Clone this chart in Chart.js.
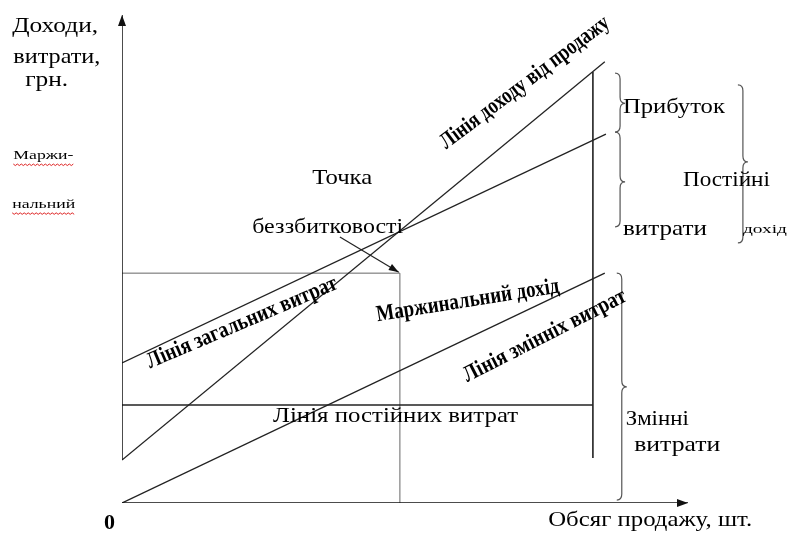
<!DOCTYPE html>
<html>
<head>
<meta charset="utf-8">
<script src="https://cdn.jsdelivr.net/npm/chart.js@4.4.1/dist/chart.umd.min.js"></script>
<style>
    body { margin: 0; background: #fff; }
    #chart { display: block; }
</style>
</head>
<body>
<canvas id="chart" width="789" height="537"></canvas>
<script>
// lines of the break-even chart, in chart units (x: 0..100 sales volume, y: 0..100 money)
const revenueLine = [[0, 8.8], [85.3, 90.4]];
const totalCostLine = [[0, 28.7], [85.5, 75.6]];
const variableCostLine = [[0, 0], [85.3, 47.1]];
const fixedCostLine = [[0, 20.1], [83.2, 20.1]];
const salesLimitLine = [[83.2, 9.2], [83.2, 88.3]];
const breakEvenX = [[49.1, 0], [49.1, 47.1]];
const breakEvenY = [[0, 47.1], [49.1, 47.1]];
const yAxisLine = [[0, 8.8], [0, 100]];
const xAxisLine = [[0, 0], [100, 0]];
const breakEvenArrow = [[38.5, 54.5], [48.9, 47.3]];

// braces: x, top, bottom, tip
const braces = [
    [88.0, 88.1, 76.0, 81.9],
    [88.0, 76.0, 56.6, 65.8],
    [88.3, 47.1, 0.6, 23.8],
    [109.7, 85.7, 53.3, 69.9]
];

// plain labels: text, x, y, width, size, bold
const labels = [
    ['Доходи,', -19.4, 97.7, 86, 21, false],
    ['витрати,', -19.2, 91.2, 87, 21, false],
    ['грн.', -17.1, 86.5, 43, 21, false],
    ['Маржи-', -19.2, 71.1, 60, 13, false],
    ['нальний', -19.4, 61.1, 63, 13, false],
    ['Точка', 33.6, 66.4, 60, 21, false],
    ['беззбитковості', 23.0, 56.4, 151, 21, false],
    ['Прибуток', 88.5, 81.1, 102, 21, false],
    ['Постійні', 99.1, 66.0, 87, 21, false],
    ['витрати', 88.5, 56.1, 84, 21, false],
    ['дохід', 109.7, 56.1, 44, 13, false],
    ['Лінія постійних витрат', 26.7, 17.8, 245, 21, false],
    ['Змінні', 89.0, 17.2, 63, 21, false],
    ['витрати', 90.5, 11.7, 86, 21, false],
    ['0', -3.2, -4.3, 11, 21, true],
    ['Обсяг продажу, шт.', 75.3, -3.5, 204, 21, false]
];

// rotated bold labels: text, centre x, centre y, angle (deg), width
const slantLabels = [
    ['Лінія доходу від продажу', 71.2, 86.1, -37, 206],
    ['Лінія загальних витрат', 21.2, 36.9, -23, 205],
    ['Маржинальний дохід', 61.1, 41.4, -9, 185],
    ['Лінія змінніх витрат', 74.7, 34.2, -27, 180]
];

const toPoints = arr => arr.map(p => ({ x: p[0], y: p[1] }));

function lineSet(arr, color, width) {
    return {
        data: toPoints(arr),
        showLine: true,
        borderColor: color,
        borderWidth: width,
        pointRadius: 0,
        fill: false
    };
}

function drawText(ctx, txt, x, y, width, size, bold) {
    ctx.save();
    ctx.font = (bold ? 'bold ' : '') + size + 'px "Liberation Serif", "Times New Roman", serif';
    const w = ctx.measureText(txt).width;
    ctx.translate(x, y);
    ctx.scale(width / w, 1);
    ctx.textAlign = 'left';
    ctx.textBaseline = 'middle';
    ctx.fillStyle = '#000';
    ctx.fillText(txt, 0, 0);
    ctx.restore();
}

function drawHead(ctx, x1, y1, x2, y2, len, half) {
    const a = Math.atan2(y2 - y1, x2 - x1);
    ctx.beginPath();
    ctx.moveTo(x2, y2);
    ctx.lineTo(x2 - len * Math.cos(a) + half * Math.sin(a), y2 - len * Math.sin(a) - half * Math.cos(a));
    ctx.lineTo(x2 - len * Math.cos(a) - half * Math.sin(a), y2 - len * Math.sin(a) + half * Math.cos(a));
    ctx.closePath();
    ctx.fill();
}

function drawBrace(ctx, x, top, bottom, tip) {
    ctx.beginPath();
    ctx.moveTo(x - 5, top);
    ctx.quadraticCurveTo(x, top, x, top + 6);
    ctx.lineTo(x, tip - 6);
    ctx.quadraticCurveTo(x, tip, x + 5, tip);
    ctx.quadraticCurveTo(x, tip, x, tip + 6);
    ctx.lineTo(x, bottom - 6);
    ctx.quadraticCurveTo(x, bottom, x - 5, bottom);
    ctx.stroke();
}

const decorPlugin = {
    id: 'decor',
    afterDatasetsDraw(chart) {
        const ctx = chart.ctx;
        const sx = chart.scales.x;
        const sy = chart.scales.y;
        const px = v => sx.getPixelForValue(v);
        const py = v => sy.getPixelForValue(v);

        ctx.save();
        ctx.fillStyle = '#111';
        // axis arrows
        drawHead(ctx, px(0), py(90), px(0), py(100), 11, 4);
        drawHead(ctx, px(90), py(0), px(100), py(0), 11, 4);
        // break-even pointer
        const a = breakEvenArrow;
        drawHead(ctx, px(a[0][0]), py(a[0][1]), px(a[1][0]), py(a[1][1]), 10, 3.5);

        // braces
        ctx.strokeStyle = '#555';
        ctx.lineWidth = 1.2;
        braces.forEach(b => drawBrace(ctx, px(b[0]), py(b[1]), py(b[2]), py(b[3])));

        // labels
        labels.forEach(l => drawText(ctx, l[0], px(l[1]), py(l[2]), l[3], l[4], l[5]));

        // spell-check squiggles under the small left labels
        ctx.strokeStyle = '#d22';
        ctx.lineWidth = 1;
        [labels[3], labels[4]].forEach(l => {
            const x0 = px(l[1]);
            const y0 = py(l[2]) + 8;
            ctx.beginPath();
            for (let i = 0; i <= l[3]; i += 2) {
                const yy = y0 + (i % 4 === 0 ? 0 : 1.5);
                if (i === 0) ctx.moveTo(x0 + i, yy); else ctx.lineTo(x0 + i, yy);
            }
            ctx.stroke();
        });

        // slanted bold labels
        slantLabels.forEach(l => {
            ctx.save();
            ctx.font = 'bold 23px "Liberation Serif", "Times New Roman", serif';
            const w = ctx.measureText(l[0]).width;
            ctx.translate(px(l[1]), py(l[2]));
            ctx.rotate(l[3] * Math.PI / 180);
            ctx.scale(l[4] / w, 1);
            ctx.textAlign = 'center';
            ctx.textBaseline = 'middle';
            ctx.fillStyle = '#000';
            ctx.fillText(l[0], 0, 0);
            ctx.restore();
        });
        ctx.restore();
    }
};

document.addEventListener('DOMContentLoaded', function() {
    const $ctx = document.getElementById('chart');

    new Chart($ctx, {
        type: 'scatter',
        data: {
            datasets: [
                lineSet(yAxisLine, '#111', 1.5),
                lineSet(xAxisLine, '#111', 1.5),
                lineSet(revenueLine, '#222', 1.3),
                lineSet(totalCostLine, '#222', 1.3),
                lineSet(variableCostLine, '#222', 1.3),
                lineSet(fixedCostLine, '#222', 1.5),
                lineSet(salesLimitLine, '#111', 1.5),
                lineSet(breakEvenX, '#666', 1),
                lineSet(breakEvenY, '#666', 1),
                lineSet(breakEvenArrow, '#222', 1.2)
            ]
        },
        options: {
            responsive: false,
            animation: false,
            layout: { padding: { left: 122, right: 101, top: 15, bottom: 34 } },
            scales: {
                x: { type: 'linear', min: 0, max: 100, display: false },
                y: { type: 'linear', min: 0, max: 100, display: false }
            },
            plugins: {
                legend: { display: false },
                tooltip: { enabled: false }
            }
        },
        plugins: [decorPlugin]
    });
}, false);
</script>
</body>
</html>
